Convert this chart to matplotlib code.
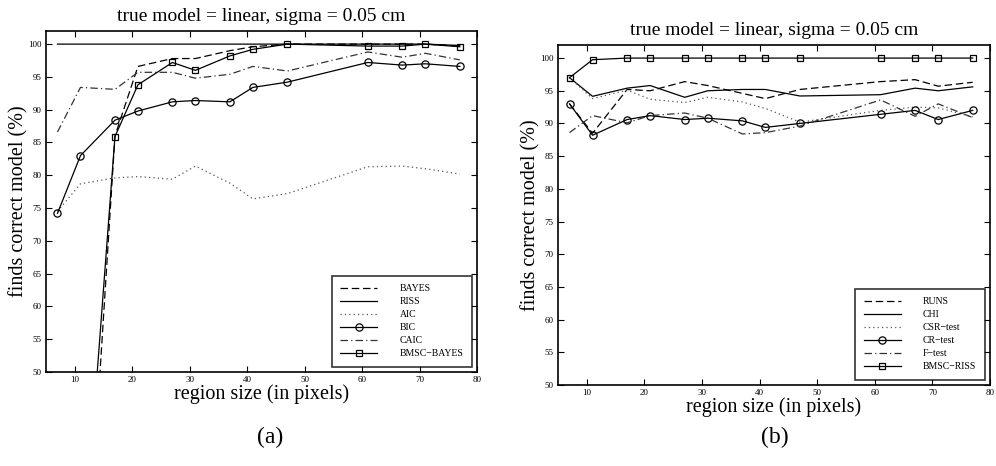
import matplotlib
matplotlib.use("Agg")
import matplotlib.pyplot as plt

plt.rcParams['font.family'] = ['Liberation Serif', 'DejaVu Serif']

x = [7, 11, 17, 21, 27, 31, 37, 41, 47, 61, 67, 71, 77]

# Panel (a)
bayes = [2, 3, 86.0, 96.6, 97.8, 97.8, 99.0, 99.6, 100, 100, 100, 100, 99.7]
riss = [100, 100, 100, 100, 100, 100, 100, 100, 100, 100, 100, 100, 99.8]
aic = [74.5, 78.7, 79.6, 79.8, 79.4, 81.4, 78.8, 76.4, 77.2, 81.3, 81.4, 81.0, 80.2]
bic = [74.2, 83.0, 88.4, 89.8, 91.2, 91.4, 91.2, 93.4, 94.2, 97.2, 96.8, 97.0, 96.6]
caic = [86.6, 93.4, 93.1, 95.7, 95.7, 94.8, 95.4, 96.6, 95.9, 98.8, 98.0, 98.6, 97.6]
bmsc_bayes = [10, 16, 85.9, 93.8, 97.2, 96.0, 98.2, 99.2, 100, 99.7, 99.7, 100, 99.6]

# Panel (b)
runs = [93.0, 88.5, 95.2, 95.0, 96.4, 95.8, 94.6, 93.8, 95.2, 96.4, 96.7, 95.7, 96.3]
chi = [97.0, 94.15, 95.4, 95.8, 94.0, 95.0, 95.2, 95.2, 94.2, 94.4, 95.4, 95.0, 95.6]
csr = [97.0, 93.8, 95.1, 93.7, 93.2, 94.0, 93.3, 92.3, 90.2, 92.0, 92.5, 92.4, 91.0]
cr = [93.0, 88.2, 90.6, 91.2, 90.6, 90.8, 90.4, 89.4, 90.0, 91.4, 92.0, 90.6, 92.0]
ftest = [88.6, 91.2, 90.1, 91.2, 91.6, 90.8, 88.4, 88.6, 89.6, 93.6, 91.1, 93.0, 90.9]
bmsc_riss = [97.0, 99.75, 100, 100, 100, 100, 100, 100, 100, 100, 100, 100, 100]

labels_a = ['BAYES', 'RISS', 'AIC', 'BIC', 'CAIC', 'BMSC\u2212BAYES']
labels_b = ['RUNS', 'CHI', 'CSR\u2212test', 'CR\u2212test', 'F\u2212test', 'BMSC\u2212RISS']

title = 'true model = linear, sigma = 0.05 cm'
xlabel = 'region size (in pixels)'
ylabel = 'finds correct model (%)'

W, H = 996, 466
fig = plt.figure(figsize=(W / 100, H / 100), dpi=100)

def px_axes(x0, y0, x1, y1):
    return fig.add_axes([x0 / W, (H - y1) / H, (x1 - x0) / W, (y1 - y0) / H])

ax1 = px_axes(46, 31, 477, 372)
ax2 = px_axes(558, 45, 990, 385)

lw = 0.9
styles = [
    dict(ls=(0, (6, 3)), lw=lw, color='black'),
    dict(ls='-', lw=lw, color='black'),
    dict(ls=(0, (1, 2.5)), lw=lw, color='#555555'),
    dict(ls='-', lw=lw, color='black', marker='o', ms=5.2, mfc='none', mec='black', mew=0.9),
    dict(ls=(0, (6, 2.5, 1, 2.5)), lw=lw, color='#333333'),
    dict(ls='-', lw=lw, color='black', marker='s', ms=4, mfc='none', mec='black', mew=0.9),
]

for ax, series, labels in [
    (ax1, [bayes, riss, aic, bic, caic, bmsc_bayes], labels_a),
    (ax2, [runs, chi, csr, cr, ftest, bmsc_riss], labels_b),
]:
    for ys, lab, st in zip(series, labels, styles):
        ax.plot(x, ys, label=lab, **st)
    ax.set_xlim(5, 80)
    ax.set_ylim(50, 102)
    ax.set_xticks(range(10, 81, 10))
    ax.set_yticks(range(50, 101, 5))
    ax.tick_params(direction='in', top=True, right=True, labelsize=6.5, length=4.5, width=0.8, pad=3)
    for sp in ax.spines.values():
        sp.set_linewidth(1.2)
    ax.set_title(title, fontsize=14, pad=7)
    ax.set_xlabel(xlabel, fontsize=14.5, labelpad=0)
    ax.set_ylabel(ylabel, fontsize=14.5, labelpad=0)
    leg = ax.legend(loc='lower right', fontsize=7, frameon=True, fancybox=False,
                    edgecolor='black', handlelength=3.8, handletextpad=2.3,
                    borderaxespad=0.55, labelspacing=0.42, borderpad=0.85)
    leg.get_frame().set_linewidth(1.2)

fig.text(270 / W, 1 - 437 / H, '(a)', fontsize=17, ha='center', va='center')
fig.text(775 / W, 1 - 437 / H, '(b)', fontsize=17, ha='center', va='center')

fig.savefig('out.png', dpi=100)
